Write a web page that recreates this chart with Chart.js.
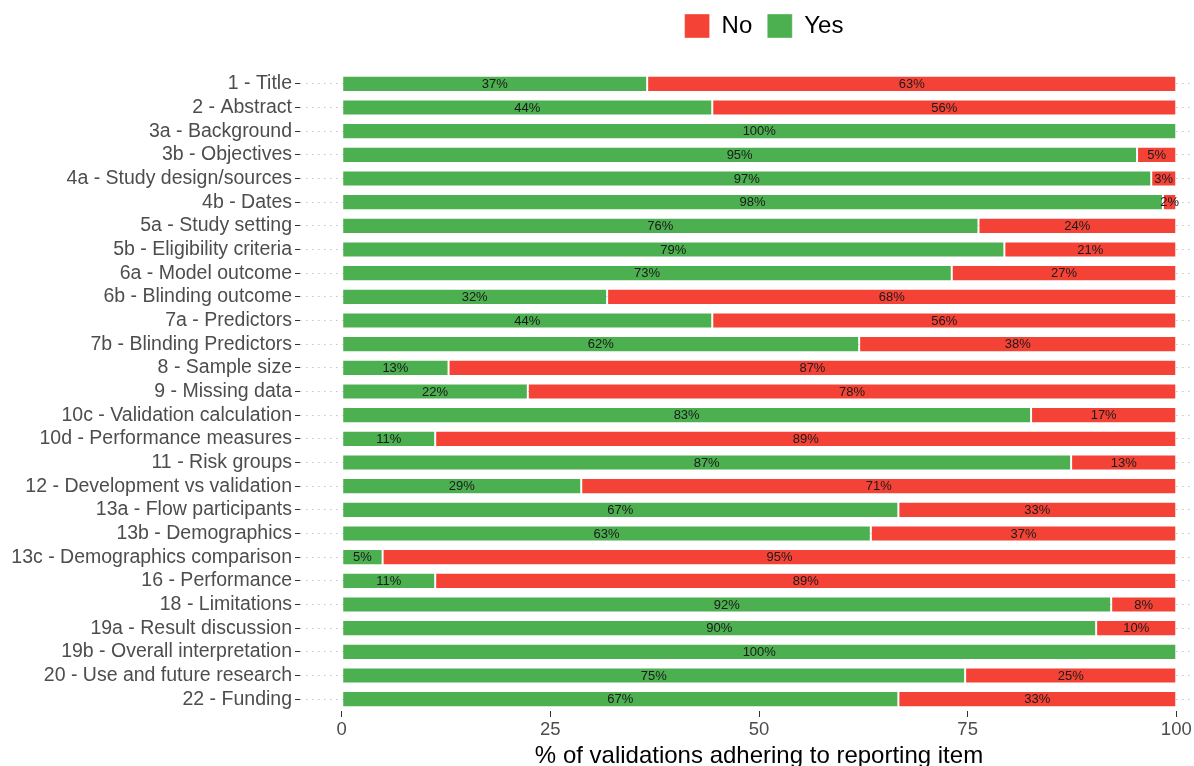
<!DOCTYPE html>
<html>
<head>
<meta charset="utf-8">
<script src="https://cdn.jsdelivr.net/npm/chart.js@4"></script>
<style>
  html, body { margin: 0; padding: 0; background: #fff; overflow: hidden; }
  #wrap { width: 1218px; height: 766px; }
</style>
</head>
<body>
<div id="wrap"><canvas id="barChart"></canvas></div>
<script>
const items = [
  '1 - Title', '2 - Abstract', '3a - Background', '3b - Objectives',
  '4a - Study design/sources', '4b - Dates', '5a - Study setting',
  '5b - Eligibility criteria', '6a - Model outcome', '6b - Blinding outcome',
  '7a - Predictors', '7b - Blinding Predictors', '8 - Sample size',
  '9 - Missing data', '10c - Validation calculation', '10d - Performance measures',
  '11 - Risk groups', '12 - Development vs validation', '13a - Flow participants',
  '13b - Demographics', '13c - Demographics comparison', '16 - Performance',
  '18 - Limitations', '19a - Result discussion', '19b - Overall interpretation',
  '20 - Use and future research', '22 - Funding'
];
const yesPct = [36.6, 44.4, 100, 95.3, 97.0, 98.4, 76.3, 79.4, 73.1, 31.8, 44.4, 62.0, 12.8, 22.3,
  82.6, 11.2, 87.4, 28.7, 66.7, 63.4, 4.9, 11.2, 92.2, 90.4, 100, 74.7, 66.7];
const noPct = yesPct.map(v => +(100 - v).toFixed(1));
const xTicks = [0, 25, 50, 75, 100];

const font = 'Liberation Sans, Arial, sans-serif';

// percent text in the middle of each segment
const segmentLabels = {
  id: 'segmentLabels',
  afterDatasetsDraw(chart) {
    const ctx = chart.ctx;
    ctx.save();
    ctx.font = '13px ' + font;
    ctx.fillStyle = '#1a1a1a';
    ctx.textAlign = 'center';
    ctx.textBaseline = 'middle';
    chart.data.datasets.forEach((ds, i) => {
      chart.getDatasetMeta(i).data.forEach((bar, j) => {
        const v = ds.data[j];
        if (!v) return;
        const p = bar.getProps(['x', 'base', 'y'], true);
        ctx.fillText(Math.round(v) + '%', (p.x + p.base) / 2, p.y + 0.5);
      });
    });
    ctx.restore();
  }
};

// extra gap below the legend, and nudge it a little right
const legendSpace = {
  id: 'legendSpace',
  beforeInit(chart) {
    const fit = chart.legend.fit;
    chart.legend.fit = function () {
      fit.bind(chart.legend)();
      this.height += 24;
    };
  },
  beforeDraw(chart) {
    chart.legend.left = chart.chartArea.left + 5;
    chart.legend.right = chart.chartArea.right + 5;
  }
};

new Chart(document.getElementById('barChart'), {
  type: 'bar',
  data: {
    labels: items,
    datasets: [
      { label: 'Yes', data: yesPct, backgroundColor: '#4CAF50', borderColor: 'rgba(255,255,255,0.35)', borderWidth: 1, borderSkipped: false },
      { label: 'No', data: noPct, backgroundColor: '#F44336', borderColor: 'rgba(255,255,255,0.35)', borderWidth: 1, borderSkipped: false }
    ]
  },
  options: {
    indexAxis: 'y',
    responsive: true,
    maintainAspectRatio: false,
    animation: false,
    layout: { padding: { top: -1, right: 0, left: 0, bottom: 0 } },
    datasets: { bar: { barPercentage: 0.68, categoryPercentage: 1 } },
    scales: {
      x: {
        stacked: true,
        min: -5,
        max: 105,
        afterBuildTicks(scale) { scale.ticks = xTicks.map(v => ({ value: v })); },
        afterFit(scale) { scale.height = 55; },
        grid: { drawOnChartArea: false, tickLength: 6, tickColor: '#333' },
        border: { display: false },
        ticks: { color: '#4d4d4d', font: { family: font, size: 18.5 }, padding: 2 },
        title: { display: true, text: '% of validations adhering to reporting item', color: '#000', font: { family: font, size: 24 }, padding: { top: 0, bottom: -5 } }
      },
      y: {
        stacked: true,
        afterFit(scale) { scale.width = 300; },
        grid: { offset: false, color: '#c4c4c4', lineWidth: 1, tickColor: '#333', tickLength: 5, tickBorderDash: [] },
        border: { display: false, dash: [1.5, 4.5] },
        ticks: { autoSkip: false, color: '#4d4d4d', font: { family: font, size: 19.5 }, padding: 3 }
      }
    },
    plugins: {
      legend: {
        position: 'top',
        fullSize: false,
        reverse: true,
        labels: { color: '#000', font: { family: font, size: 24 }, boxWidth: 25, boxHeight: 24, padding: 15 }
      },
      tooltip: { enabled: false }
    }
  },
  plugins: [segmentLabels, legendSpace]
});
</script>
</body>
</html>
